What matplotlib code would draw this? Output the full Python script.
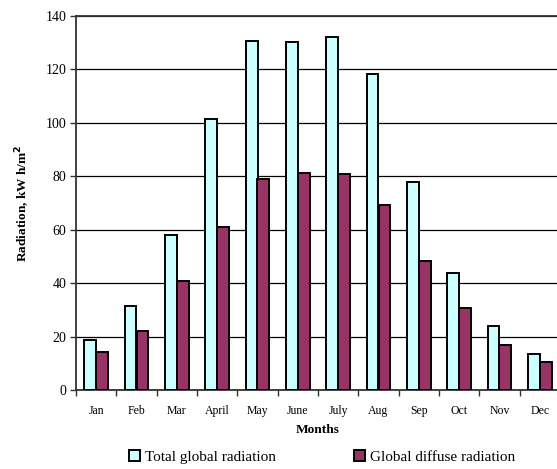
import matplotlib
matplotlib.use("Agg")
import matplotlib.pyplot as plt
import numpy as np
from matplotlib.patches import Patch

months = ["Jan", "Feb", "Mar", "April", "May", "June", "July", "Aug", "Sep", "Oct", "Nov", "Dec"]
total_global = [18.7, 31.6, 57.9, 101.5, 130.8, 130.2, 132.2, 118.2, 77.8, 43.9, 23.8, 13.5]
global_diffuse = [14.1, 22.2, 40.8, 61.1, 78.9, 81.4, 81.0, 69.1, 48.3, 30.7, 16.7, 10.5]
yticks = [0, 20, 40, 60, 80, 100, 120, 140]

plt.rcParams['font.family'] = ['Liberation Serif', 'DejaVu Serif']

W, H = 557, 469
fig = plt.figure(figsize=(W/100, H/100), dpi=100)
ax = fig.add_axes([76/W, 1-390/H, (560-76)/W, (390-16)/H])

x = np.arange(len(months))
bw = 0.29
ax.bar(x - bw/2, total_global, bw, color='#CCFFFF', edgecolor='black', linewidth=1.4, zorder=3)
ax.bar(x + bw/2, global_diffuse, bw, color='#993366', edgecolor='black', linewidth=1.4, zorder=3)

ax.set_xlim(-0.5, len(months) - 0.5)
ax.set_ylim(0, 140)
ax.set_yticks(yticks)
ax.set_yticklabels([str(v) for v in yticks], fontsize=10)
ax.yaxis.grid(True, color='black', linewidth=0.9, zorder=0)
ax.set_axisbelow(True)

ax.set_xticks(x)
ax.set_xticklabels(months, fontsize=8.5)
ax.tick_params(axis='x', length=0, pad=11)
ax.set_xticks(np.arange(-0.5, len(months)), minor=True)
ax.tick_params(axis='x', which='minor', length=4, width=1, color='#333333', direction='out')
ax.tick_params(axis='y', length=4, width=1, color='#333333', direction='out', pad=3)

for s in ['left', 'bottom', 'top']:
    ax.spines[s].set_color('#333333')
    ax.spines[s].set_linewidth(1.3)
ax.spines['right'].set_visible(False)

ax.set_xlabel('Months', fontsize=9.6, fontweight='bold', labelpad=5)
ax.set_ylabel('Radiation, kW h/m$^{\\mathbf{2}}$', fontsize=9.6, fontweight='bold', labelpad=10)

handles = [Patch(facecolor='#CCFFFF', edgecolor='black', linewidth=1.4),
           Patch(facecolor='#993366', edgecolor='black', linewidth=1.4)]
fig.legend(handles, ['Total global radiation', 'Global diffuse radiation'],
           loc='center', bbox_to_anchor=(322/W, 1-457/H), ncol=2, frameon=False,
           fontsize=11, handlelength=0.75, handleheight=0.75, handletextpad=0.3,
           columnspacing=5.1)

fig.savefig('out.png', dpi=100)
